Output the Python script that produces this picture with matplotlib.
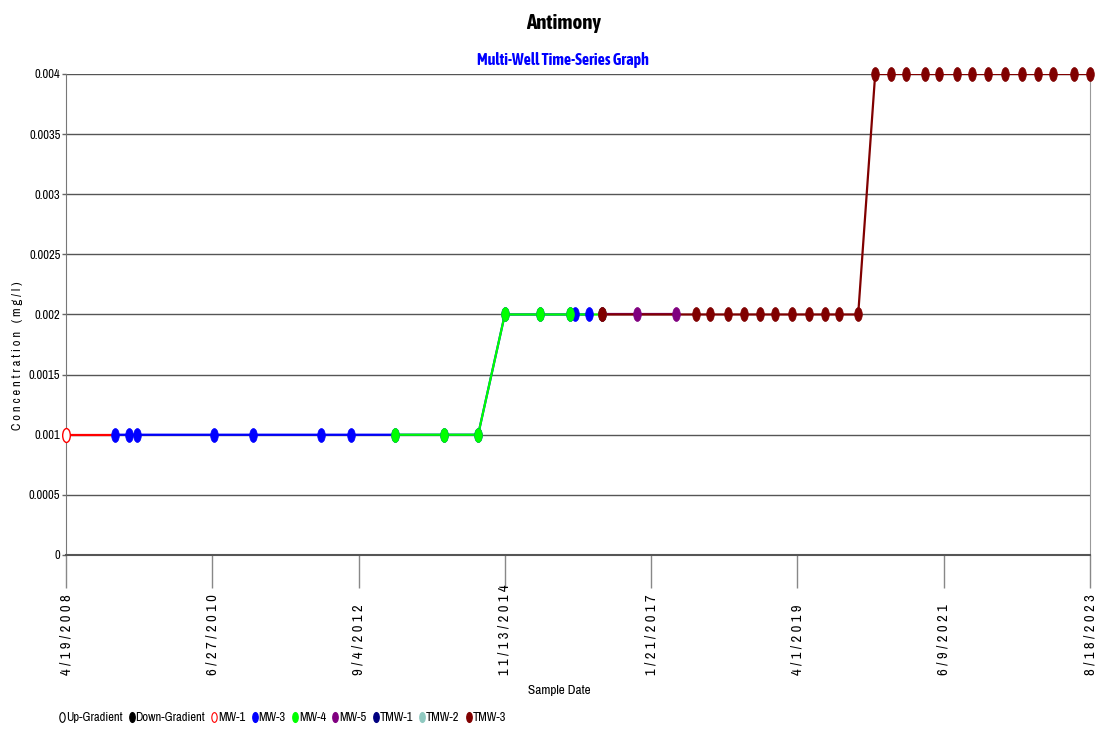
import matplotlib
matplotlib.use("Agg")
import matplotlib.pyplot as plt
from matplotlib import font_manager
from matplotlib.path import Path
from matplotlib.transforms import Affine2D
from matplotlib.lines import Line2D
import pandas as pd

# narrow faces: one for body text, one with a bold weight for the titles
body = None
cands = {}
for f in font_manager.fontManager.ttflist:
    if 'Narrow' in f.name or 'Condensed' in f.name:
        if body is None:
            body = f.name
        cands.setdefault(f.name, set()).add(f.weight)
if 'Liberation Sans Narrow' in cands:
    body = 'Liberation Sans Narrow'
bold = None
for name, weights in cands.items():
    if any((w == 'bold' or (isinstance(w, int) and w >= 600)) for w in weights):
        if bold is None or name == body:
            bold = name
plt.rcParams['font.family'] = ([body] if body else []) + ['Liberation Sans', 'DejaVu Sans']
title_fam = [bold, 'Liberation Sans'] if bold else ['Liberation Sans']
fs = 9 if body else 8

# sample dates / concentrations per well (mg/l)
mw1_dates = ["2008-04-19", "2009-01-12"]
mw1_vals = [0.001, 0.001]

mw3_dates = ["2009-01-12", "2009-03-29", "2009-05-12", "2010-07-07", "2011-02-06",
             "2012-02-12", "2012-07-25", "2013-03-23", "2013-12-16", "2014-06-20",
             "2014-11-13", "2015-05-25", "2015-11-05", "2015-12-02", "2016-02-17"]
mw3_vals = [0.001, 0.001, 0.001, 0.001, 0.001, 0.001, 0.001, 0.001, 0.001, 0.001,
            0.002, 0.002, 0.002, 0.002, 0.002]

mw4_dates = ["2013-03-23", "2013-12-16", "2014-06-20", "2014-11-13", "2015-05-25",
             "2015-11-05", "2016-04-28"]
mw4_vals = [0.001, 0.001, 0.001, 0.002, 0.002, 0.002, 0.002]

mw5_dates = ["2016-04-28", "2016-11-05", "2017-06-06"]
mw5_vals = [0.002, 0.002, 0.002]

tmw1_dates = []
tmw1_vals = []
tmw2_dates = []
tmw2_vals = []

tmw3_dates = ["2016-04-28", "2017-09-24", "2017-12-09", "2018-03-18", "2018-06-13",
              "2018-09-09", "2018-11-30", "2019-03-03", "2019-06-04", "2019-08-30",
              "2019-11-15", "2020-02-27", "2020-05-30", "2020-08-25", "2020-11-15",
              "2021-02-27", "2021-05-15", "2021-08-21", "2021-11-11", "2022-02-07",
              "2022-05-10", "2022-08-11", "2022-11-07", "2023-01-28", "2023-05-23",
              "2023-08-18"]
tmw3_vals = [0.002] * 12 + [0.004] * 14

tick_dates = ["2008-04-19", "2010-06-27", "2012-09-04", "2014-11-13",
              "2017-01-21", "2019-04-01", "2021-06-09", "2023-08-18"]
tick_labels = ["4/19/2008", "6/27/2010", "9/4/2012", "11/13/2014",
               "1/21/2017", "4/1/2019", "6/9/2021", "8/18/2023"]

series = [
    ("MW-1", mw1_dates, mw1_vals, "#ff0000", True),
    ("MW-3", mw3_dates, mw3_vals, "#0000ff", False),
    ("MW-4", mw4_dates, mw4_vals, "#00ff00", False),
    ("MW-5", mw5_dates, mw5_vals, "#800080", False),
    ("TMW-1", tmw1_dates, tmw1_vals, "#000080", False),
    ("TMW-2", tmw2_dates, tmw2_vals, "#8fc9c0", False),
    ("TMW-3", tmw3_dates, tmw3_vals, "#800000", False),
]

# tall oval marker
oval = Path.unit_circle().transformed(Affine2D().scale(0.55, 1.0))

fig = plt.figure(figsize=(11.12, 7.31), dpi=100)
ax = fig.add_axes([0.0594, 0.2408, 0.9209, 0.658])

# lines first, then markers on top
for name, d, v, c, hollow in series:
    if len(d) == 0:
        continue
    ax.plot(pd.to_datetime(d), v, color=c, lw=1.6, zorder=2)
for name, d, v, c, hollow in series:
    if len(d) == 0:
        continue
    if hollow:
        ax.plot(pd.to_datetime(d[:1]), v[:1], ls='none', marker=oval, ms=10,
                mfc='white', mec=c, mew=1, zorder=3, clip_on=False)
    else:
        ax.plot(pd.to_datetime(d), v, ls='none', marker=oval, ms=10,
                mfc=c, mec=c, mew=0.5, zorder=3, clip_on=False)

ax.set_xlim(pd.Timestamp(tick_dates[0]), pd.Timestamp(tick_dates[-1]))
ax.set_ylim(0, 0.004)
ax.set_yticks([0, 0.0005, 0.001, 0.0015, 0.002, 0.0025, 0.003, 0.0035, 0.004])
ax.set_yticklabels(["0", "0.0005", "0.001", "0.0015", "0.002", "0.0025", "0.003", "0.0035", "0.004"])
ax.yaxis.grid(True, color='#555555', lw=1)
ax.set_axisbelow(True)

# x tick labels: rotated, letter spaced, bottom-aligned
ax.set_xticks(pd.to_datetime(tick_dates))
ax.set_xticklabels([])
for d, t in zip(tick_dates, tick_labels):
    ax.text(pd.Timestamp(d), -0.25, " ".join(t), transform=ax.get_xaxis_transform(),
            rotation=90, ha='center', va='bottom', fontsize=fs + 1.5)

ax.tick_params(axis='x', length=24, width=1, color='#888888')
ax.tick_params(axis='y', length=3, width=1, color='#666666', pad=1, labelsize=fs)

ax.spines['top'].set_visible(False)
ax.spines['left'].set_color('#777777')
ax.spines['right'].set_color('#999999')
ax.spines['bottom'].set_color('#555555')
ax.spines['bottom'].set_linewidth(1.5)

fig.text(0.016, 0.514, " ".join("Concentration (mg/l)"), rotation=90,
         ha='center', va='center', fontsize=fs)
fig.text(0.503, 0.056, "Sample Date", ha='center', va='center', fontsize=fs + 0.5)

fig.text(0.507, 0.968, "Antimony", ha='center', va='center', family=title_fam,
         fontsize=15 if bold else 13, fontweight='bold')
fig.text(0.506, 0.918, "Multi-Well Time-Series Graph", ha='center', va='center', family=title_fam,
         fontsize=11.5 if bold else 9.5, fontweight='bold', color='#0000ff')

lms = 7
handles = [
    Line2D([], [], ls='none', marker=oval, ms=lms, mfc='white', mec='black', mew=0.8, label='Up-Gradient'),
    Line2D([], [], ls='none', marker=oval, ms=lms, mfc='black', mec='black', label='Down-Gradient'),
]
for name, d, v, c, hollow in series:
    if hollow:
        handles.append(Line2D([], [], ls='none', marker=oval, ms=lms, mfc='white', mec=c, mew=0.8, label=name))
    else:
        handles.append(Line2D([], [], ls='none', marker=oval, ms=lms, mfc=c, mec=c, label=name))
fig.legend(handles=handles, loc='center left', bbox_to_anchor=(0.053, 0.018), ncol=len(handles),
           frameon=False, fontsize=fs, handletextpad=0.05, columnspacing=0.5, handlelength=0.5,
           borderaxespad=0, borderpad=0)

fig.savefig("out.png", dpi=100)
